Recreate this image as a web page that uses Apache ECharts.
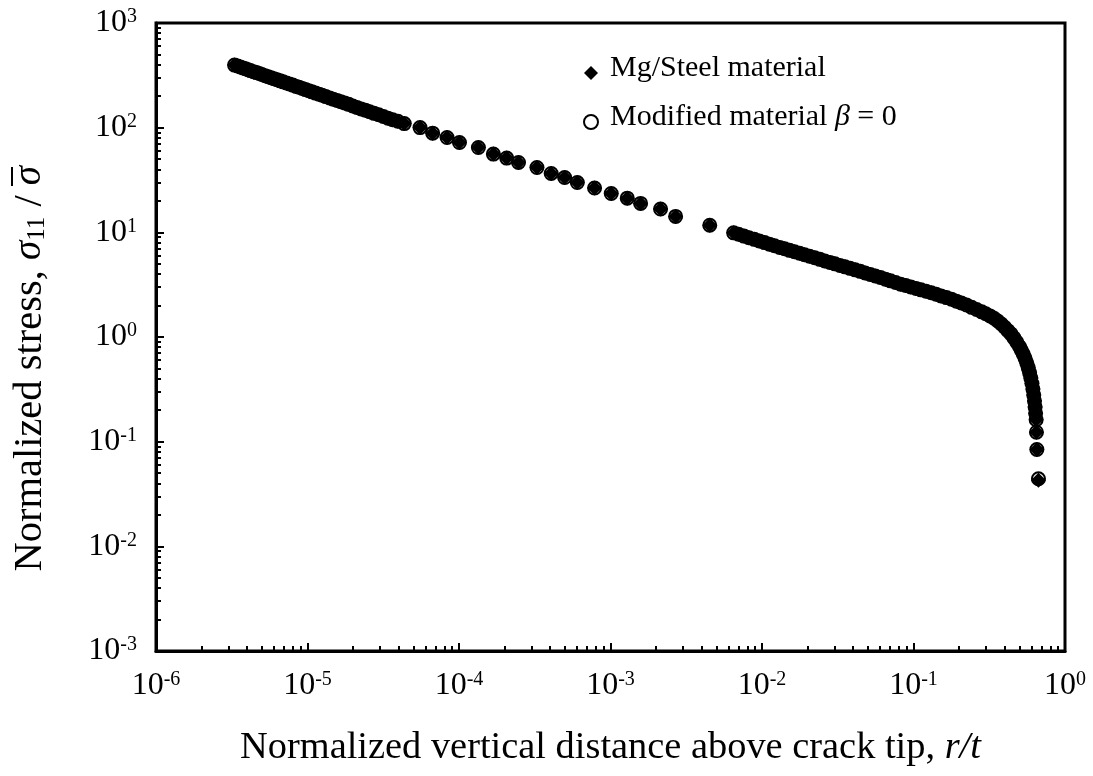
<!DOCTYPE html>
<html>
<head>
<meta charset="utf-8">
<script src="https://cdn.jsdelivr.net/npm/echarts@6/dist/echarts.min.js"></script>
<style>
  html, body { margin: 0; padding: 0; background: #fff; }
  #chart { width: 1093px; height: 776px; }
</style>
</head>
<body>
<div id="chart"></div>
<script>
// Normalized vertical distance above the crack tip, r/t
const distance = [
  3.3e-6, 3.45e-6, 3.6e-6, 3.75e-6, 3.9e-6, 4.05e-6, 4.2e-6, 4.4e-6, 4.6e-6, 4.8e-6,
  5.0e-6, 5.25e-6, 5.5e-6, 5.75e-6, 6.0e-6, 6.3e-6, 6.6e-6, 6.9e-6, 7.25e-6, 7.6e-6,
  8.0e-6, 8.4e-6, 8.8e-6, 9.25e-6, 9.7e-6, 1.02e-5, 1.07e-5, 1.13e-5, 1.19e-5, 1.25e-5,
  1.32e-5, 1.4e-5, 1.48e-5, 1.57e-5, 1.66e-5, 1.76e-5, 1.87e-5, 1.99e-5, 2.12e-5, 2.26e-5,
  2.41e-5, 2.57e-5, 2.75e-5, 2.95e-5, 3.17e-5, 3.4e-5, 3.65e-5, 3.95e-5,
  4.35e-5, 5.53e-5, 6.70e-5, 8.34e-5, 1.007e-4, 1.343e-4, 1.686e-4, 2.065e-4, 2.47e-4, 3.27e-4,
  4.06e-4, 4.98e-4, 6.04e-4, 7.85e-4, 1.011e-3, 1.29e-3, 1.58e-3, 2.14e-3, 2.69e-3, 4.52e-3,
  0.0065, 0.0070, 0.0076, 0.0082, 0.0089, 0.0096, 0.0104, 0.0112, 0.0121, 0.0131,
  0.0141, 0.0152, 0.0164, 0.0177, 0.0191, 0.0206, 0.0223, 0.0241, 0.0260, 0.0281,
  0.0303, 0.0327, 0.0353, 0.0381, 0.0412, 0.0445, 0.0480, 0.0519, 0.0560, 0.0605,
  0.0653, 0.0705, 0.0762, 0.0823, 0.0889, 0.0960, 0.104, 0.112, 0.121, 0.131,
  0.141, 0.152, 0.165, 0.178, 0.192, 0.207, 0.224, 0.242, 0.261, 0.282,
  0.300, 0.320, 0.340, 0.360, 0.380, 0.400, 0.420, 0.440, 0.460, 0.480,
  0.500, 0.515, 0.530, 0.545, 0.560, 0.572, 0.584, 0.595, 0.605, 0.614,
  0.622, 0.629, 0.635, 0.640, 0.645, 0.648, 0.652, 0.668
];

// Normalized stress sigma_11 / sigma-bar, Mg/Steel joint
const stressMgSteel = [
  396, 388, 380, 372, 365, 358, 351, 343, 336, 329,
  322, 314, 307, 300, 294, 287, 280, 274, 267, 261,
  255, 248, 243, 237, 231, 225, 220, 214, 209, 204,
  198, 192, 187, 182, 177, 172, 167, 161, 156, 151,
  147, 142, 137, 133, 128, 123, 119, 115,
  109.4, 100.2, 88.6, 80.5, 72.1, 64.6, 55.9, 51.2, 46.5, 41.6,
  36.5, 33.4, 29.9, 26.5, 23.5, 21.2, 18.9, 16.7, 14.2, 11.7,
  9.89, 9.58, 9.20, 8.89, 8.57, 8.28, 7.98, 7.71, 7.45, 7.18,
  6.96, 6.73, 6.52, 6.31, 6.10, 5.90, 5.71, 5.52, 5.33, 5.16,
  5.00, 4.83, 4.68, 4.53, 4.38, 4.24, 4.09, 3.96, 3.83, 3.71,
  3.57, 3.44, 3.32, 3.20, 3.10, 3.01, 2.91, 2.82, 2.74, 2.65,
  2.56, 2.47, 2.38, 2.30, 2.20, 2.11, 2.02, 1.92, 1.83, 1.74,
  1.67, 1.59, 1.51, 1.42, 1.33, 1.24, 1.15, 1.07, 0.98, 0.894,
  0.811, 0.748, 0.687, 0.625, 0.561, 0.509, 0.456, 0.406, 0.360, 0.318,
  0.279, 0.244, 0.214, 0.187, 0.162, 0.123, 0.0843, 0.0427
];

// Modified material (beta = 0): coincides with the joint except at the last point
const stressModified = stressMgSteel.slice(0, -1).concat([0.0442]);

const seriesNames = ['Mg/Steel material', 'Modified material β = 0'];

const serif = '"Liberation Serif", "Times New Roman", serif';

// minor tick values 2..9 within every decade
function minorTicks(fromExp, toExp) {
  const out = [];
  for (let e = fromExp; e < toExp; e++) {
    for (let m = 2; m <= 9; m++) out.push(+(m * Math.pow(10, e)).toPrecision(3));
  }
  return out;
}

function decadeLabel(v) {
  const e = Math.round(Math.log10(v));
  return '{b|10}{s|' + (e < 0 ? '-' + (-e) : e) + '}';
}

const labelRich = {
  b: { fontFamily: serif, fontSize: 32, color: '#000', lineHeight: 32 },
  s: { fontFamily: serif, fontSize: 20, color: '#000', lineHeight: 20, verticalAlign: 'top' }
};

const axisCommon = {
  type: 'log',
  logBase: 10,
  splitLine: { show: false },
  axisLine: { show: true, lineStyle: { color: '#000', width: 3 } },
  axisTick: { show: true, inside: true, length: 8, lineStyle: { color: '#000', width: 2 } },
  axisLabel: { formatter: decadeLabel, rich: labelRich, margin: 19 }
};

const minorAxis = {
  type: 'log',
  logBase: 10,
  splitLine: { show: false },
  axisLine: { show: false },
  axisLabel: { show: false }
};

const chart = echarts.init(document.getElementById('chart'));

const option = {
  animation: false,
  backgroundColor: '#fff',
  grid: {
    left: 156, right: 28, top: 23, bottom: 125,
    show: true, borderColor: '#000', borderWidth: 3, backgroundColor: 'transparent'
  },
  xAxis: [
    Object.assign({}, axisCommon, {
      min: 1e-6, max: 1, position: 'bottom',
      name: '{n|Normalized vertical distance above crack tip, }{i|r/t}',
      nameLocation: 'middle',
      nameGap: 78,
      nameTextStyle: {
        rich: {
          n: { fontFamily: serif, fontSize: 38.4, color: '#000' },
          i: { fontFamily: serif, fontSize: 38.4, color: '#000', fontStyle: 'italic' }
        }
      }
    }),
    Object.assign({}, minorAxis, {
      min: 1e-6, max: 1, position: 'bottom',
      axisTick: { show: true, inside: true, length: 5, customValues: minorTicks(-6, 0),
        lineStyle: { color: '#000', width: 2 } }
    })
  ],
  yAxis: [
    Object.assign({}, axisCommon, { min: 1e-3, max: 1e3, position: 'left' }),
    Object.assign({}, minorAxis, {
      min: 1e-3, max: 1e3, position: 'left',
      axisTick: { show: true, inside: true, length: 5, customValues: minorTicks(-3, 3),
        lineStyle: { color: '#000', width: 2 } }
    })
  ],
  legend: {
    data: seriesNames,
    orient: 'vertical',
    left: 578,
    top: 48,
    itemWidth: 14,
    itemHeight: 14,
    itemGap: 19,
    formatter: function (name) {
      if (name === seriesNames[1]) return '{n|Modified material }{i|β}{n| = 0}';
      return '{n|' + name + '}';
    },
    textStyle: {
      padding: [0, 0, 10, 7],
      rich: {
        n: { fontFamily: serif, fontSize: 30, color: '#000' },
        i: { fontFamily: serif, fontSize: 30, color: '#000', fontStyle: 'italic' }
      }
    }
  },
  graphic: [
    {
      type: 'text',
      x: 30,
      y: 166,
      rotation: Math.PI / 2,
      style: {
        text: '{t|Normalized stress, }{g|σ}{u|11}{t| / }{g|σ}',
        textAlign: 'right',
        textVerticalAlign: 'middle',
        align: 'right',
        verticalAlign: 'middle',
        fill: '#000',
        rich: {
          t: { fontFamily: serif, fontSize: 40.5, lineHeight: 40, color: '#000' },
          g: { fontFamily: serif, fontSize: 39, lineHeight: 40, color: '#000', fontStyle: 'italic' },
          u: { fontFamily: serif, fontSize: 25, lineHeight: 14, color: '#000', verticalAlign: 'bottom' }
        }
      }
    },
    {
      type: 'line',
      shape: { x1: 12, y1: 167, x2: 12, y2: 186 },
      style: { stroke: '#000', lineWidth: 2 }
    }
  ],
  series: [
    {
      name: seriesNames[1],
      type: 'scatter',
      xAxisIndex: 0,
      yAxisIndex: 0,
      symbol: 'circle',
      symbolSize: 13,
      z: 2,
      itemStyle: { color: 'rgba(0,0,0,0)', borderColor: '#000', borderWidth: 2, opacity: 1 },
      emphasis: { disabled: true },
      data: distance.map((r, i) => [r, stressModified[i]])
    },
    {
      name: seriesNames[0],
      type: 'scatter',
      xAxisIndex: 0,
      yAxisIndex: 0,
      symbol: 'diamond',
      symbolSize: 15,
      z: 3,
      itemStyle: { color: '#000', opacity: 1 },
      emphasis: { disabled: true },
      data: distance.map((r, i) => [r, stressMgSteel[i]])
    }
  ]
};

chart.setOption(option);
</script>
</body>
</html>
